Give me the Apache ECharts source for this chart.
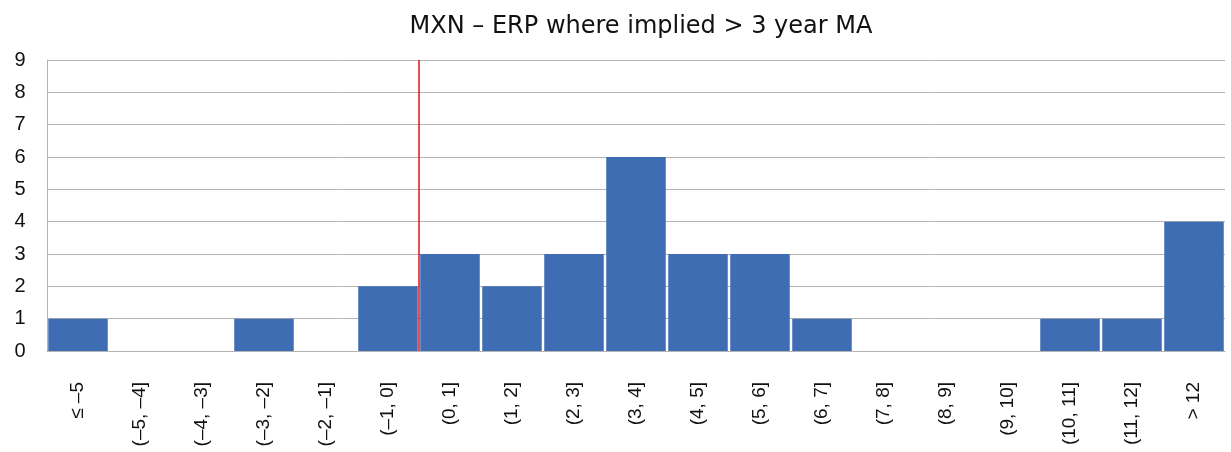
<!DOCTYPE html>
<html>
<head>
<meta charset="utf-8">
<script src="https://cdn.jsdelivr.net/npm/echarts@6/dist/echarts.min.js"></script>
<style>
  html, body { margin: 0; padding: 0; background: #fff; }
  #chart { width: 1231px; height: 452px; }
</style>
</head>
<body>
<div id="chart"></div>
<script>
const categories = [
  "≤ –5", "(–5, –4]", "(–4, –3]", "(–3, –2]", "(–2, –1]", "(–1, 0]",
  "(0, 1]", "(1, 2]", "(2, 3]", "(3, 4]", "(4, 5]", "(5, 6]", "(6, 7]",
  "(7, 8]", "(8, 9]", "(9, 10]", "(10, 11]", "(11, 12]", "> 12"
];
const counts = [1, 0, 0, 1, 0, 2, 3, 2, 3, 6, 3, 3, 1, 0, 0, 0, 1, 1, 4];
// boundary between (-1, 0] and (0, 1], in category units
const zeroMarker = [[6, 0], [6, 9]];

const chart = echarts.init(document.getElementById("chart"));

chart.setOption({
  animation: false,
  title: {
    text: "MXN – ERP where implied > 3 year MA",
    left: 636,
    textAlign: "center",
    top: 10,
    textStyle: { fontFamily: "DejaVu Sans", fontSize: 24, fontWeight: "normal", color: "#111" }
  },
  grid: { left: 47, right: 6, top: 60, bottom: 101 },
  xAxis: [
    {
      type: "category",
      data: categories,
      axisLine: { lineStyle: { color: "#b4b4b4", width: 1 } },
      axisTick: { show: false },
      axisLabel: {
        rotate: 90,
        interval: 0,
        margin: 31,
        fontFamily: "Liberation Sans",
        fontSize: 19,
        color: "#111"
      }
    },
    {
      type: "value",
      min: 0,
      max: 19,
      show: false
    }
  ],
  yAxis: {
    type: "value",
    min: 0,
    max: 9,
    interval: 1,
    axisLine: { show: true, lineStyle: { color: "#b4b4b4", width: 1 } },
    axisTick: { show: false },
    splitLine: { lineStyle: { color: "#b4b4b4", width: 1 } },
    axisLabel: {
      margin: 27,
      fontFamily: "Liberation Sans",
      fontSize: 20,
      color: "#111",
      align: "center"
    }
  },
  series: [
    {
      type: "bar",
      data: counts,
      barCategoryGap: "4%",
      itemStyle: { color: "#3f6db4" }
    },
    {
      type: "line",
      xAxisIndex: 1,
      data: zeroMarker,
      symbol: "none",
      lineStyle: { color: "#e0101e", width: 1.5 },
      z: 5
    }
  ]
});
</script>
</body>
</html>
